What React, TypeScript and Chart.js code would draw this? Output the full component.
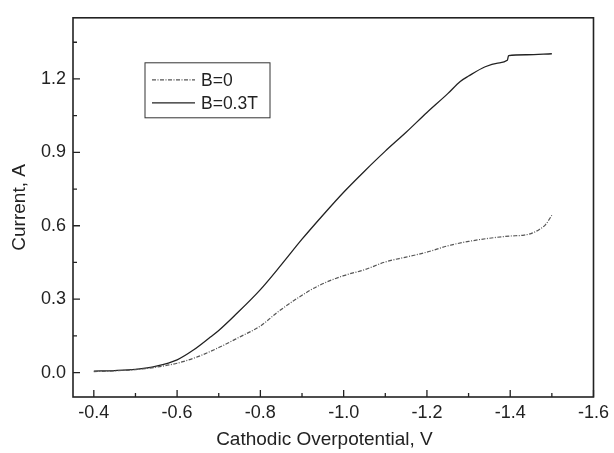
import React, { useEffect, useRef } from "react";
import { Chart, registerables } from "chart.js";

Chart.register(...registerables);

// B=0 series (cathodic overpotential V, current A)
const potentialB0 = [-0.40, -0.45, -0.50, -0.55, -0.60, -0.65, -0.70, -0.75, -0.80, -0.84, -0.89, -0.94, -1.00, -1.05, -1.10, -1.15, -1.20, -1.25, -1.30, -1.35, -1.40, -1.43, -1.45, -1.47, -1.485, -1.50];
const currentB0 = [0.004, 0.007, 0.012, 0.022, 0.038, 0.065, 0.102, 0.145, 0.19, 0.245, 0.305, 0.355, 0.396, 0.42, 0.452, 0.472, 0.492, 0.518, 0.536, 0.549, 0.558, 0.561, 0.568, 0.585, 0.605, 0.643];

// B=0.3T series
const potentialB03 = [-0.40, -0.45, -0.50, -0.55, -0.60, -0.64, -0.68, -0.70, -0.74, -0.80, -0.85, -0.90, -0.95, -1.00, -1.05, -1.10, -1.15, -1.20, -1.25, -1.28, -1.30, -1.34, -1.37, -1.393, -1.396, -1.44, -1.50];
const currentB03 = [0.006, 0.008, 0.013, 0.026, 0.052, 0.093, 0.145, 0.172, 0.236, 0.339, 0.44, 0.545, 0.643, 0.737, 0.823, 0.905, 0.982, 1.063, 1.14, 1.19, 1.212, 1.25, 1.265, 1.276, 1.295, 1.299, 1.303];

const seriesLabels = ["B=0", "B=0.3T"];
const xTitle = "Cathodic Overpotential, V";
const yTitle = "Current, A";
const xMajorTicks = [-0.4, -0.6, -0.8, -1.0, -1.2, -1.4, -1.6];
const xMinorTicks = [-0.5, -0.7, -0.9, -1.1, -1.3, -1.5];
const yMajorTicks = [0.0, 0.3, 0.6, 0.9, 1.2];
const yMinorTicks = [0.15, 0.45, 0.75, 1.05, 1.35];

const FONT = "'Liberation Sans', Arial, Helvetica, sans-serif";
const INK = "#222";
const DASH_B0 = [4, 1.5, 1, 1.5];

const framePlugin = {
  id: "frameTicksLegend",
  afterDraw(chart: any) {
    const ctx = chart.ctx;
    const { left, right, top, bottom } = chart.chartArea;
    const xs = chart.scales.x;
    const ys = chart.scales.y;
    ctx.save();
    ctx.strokeStyle = INK;
    ctx.lineWidth = 1.6;
    ctx.strokeRect(left, top, right - left, bottom - top);
    ctx.lineWidth = 1.3;
    ctx.beginPath();
    xMajorTicks.forEach((v) => {
      const px = xs.getPixelForValue(v);
      ctx.moveTo(px, bottom);
      ctx.lineTo(px, bottom - 7);
    });
    xMinorTicks.forEach((v) => {
      const px = xs.getPixelForValue(v);
      ctx.moveTo(px, bottom);
      ctx.lineTo(px, bottom - 4);
    });
    yMajorTicks.forEach((v) => {
      const py = ys.getPixelForValue(v);
      ctx.moveTo(left, py);
      ctx.lineTo(left + 7, py);
    });
    yMinorTicks.forEach((v) => {
      const py = ys.getPixelForValue(v);
      ctx.moveTo(left, py);
      ctx.lineTo(left + 4, py);
    });
    ctx.stroke();

    // axis titles
    ctx.fillStyle = INK;
    ctx.font = `19px ${FONT}`;
    ctx.textAlign = "center";
    ctx.textBaseline = "middle";
    ctx.fillText(xTitle, left + (right - left) * 0.483, bottom + 43);
    ctx.save();
    ctx.translate(left - 53, (top + bottom) / 2);
    ctx.rotate(-Math.PI / 2);
    ctx.fillText(yTitle, 0, 0);
    ctx.restore();

    // legend
    const lx = left + 72;
    const ly = top + 45;
    const lw = 125;
    const lh = 55;
    ctx.lineWidth = 1;
    ctx.strokeStyle = "#333";
    ctx.strokeRect(lx, ly, lw, lh);
    const rows = [
      { y: ly + 17, dash: DASH_B0, color: "#555", width: 1.2 },
      { y: ly + 40, dash: [], color: INK, width: 1.2 },
    ];
    ctx.font = `17.5px ${FONT}`;
    ctx.textBaseline = "middle";
    ctx.textAlign = "left";
    rows.forEach((r, i) => {
      ctx.beginPath();
      ctx.setLineDash(r.dash);
      ctx.strokeStyle = r.color;
      ctx.lineWidth = r.width;
      ctx.moveTo(lx + 7, r.y);
      ctx.lineTo(lx + 50, r.y);
      ctx.stroke();
      ctx.setLineDash([]);
      ctx.fillStyle = INK;
      ctx.fillText(seriesLabels[i], lx + 56, r.y + 1);
    });
    ctx.restore();
  },
};

export default function App() {
  const canvasRef = useRef<HTMLCanvasElement | null>(null);

  useEffect(() => {
    document.body.style.margin = "0";
    const canvas = canvasRef.current;
    if (!canvas) return;
    const chart = new Chart(canvas, {
      type: "line",
      data: {
        datasets: [
          {
            label: seriesLabels[0],
            data: potentialB0.map((x, i) => ({ x, y: currentB0[i] })),
            borderColor: "#555",
            borderWidth: 1.2,
            borderDash: DASH_B0,
            pointRadius: 0,
            cubicInterpolationMode: "monotone",
            fill: false,
          },
          {
            label: seriesLabels[1],
            data: potentialB03.map((x, i) => ({ x, y: currentB03[i] })),
            borderColor: INK,
            borderWidth: 1.3,
            pointRadius: 0,
            cubicInterpolationMode: "monotone",
            fill: false,
          },
        ],
      },
      options: {
        animation: false,
        responsive: true,
        maintainAspectRatio: false,
        layout: { padding: { left: 0, top: 14, right: 17, bottom: 0 } },
        plugins: { legend: { display: false }, tooltip: { enabled: false } },
        scales: {
          x: {
            type: "linear",
            reverse: true,
            min: -1.6,
            max: -0.35,
            afterBuildTicks: (scale: any) => {
              scale.ticks = xMajorTicks.map((value) => ({ value }));
            },
            afterFit: (scale: any) => {
              scale.height = 56;
            },
            grid: { display: false, drawTicks: false },
            border: { display: false },
            ticks: {
              color: INK,
              font: { family: FONT, size: 18 },
              padding: 5,
              maxRotation: 0,
              autoSkip: false,
              callback: (v: any) => Number(v).toFixed(1),
            },
          },
          y: {
            type: "linear",
            min: -0.1,
            max: 1.45,
            afterBuildTicks: (scale: any) => {
              scale.ticks = yMajorTicks.map((value) => ({ value }));
            },
            afterFit: (scale: any) => {
              scale.width = 73;
            },
            grid: { display: false, drawTicks: false },
            border: { display: false },
            ticks: {
              color: INK,
              font: { family: FONT, size: 18 },
              padding: 7,
              autoSkip: false,
              callback: (v: any) => Number(v).toFixed(1),
            },
          },
        },
      },
      plugins: [framePlugin],
    });
    return () => chart.destroy();
  }, []);

  return (
    <div style={{ width: 614, height: 453, position: "relative", background: "#fff" }}>
      <canvas ref={canvasRef} />
    </div>
  );
}
